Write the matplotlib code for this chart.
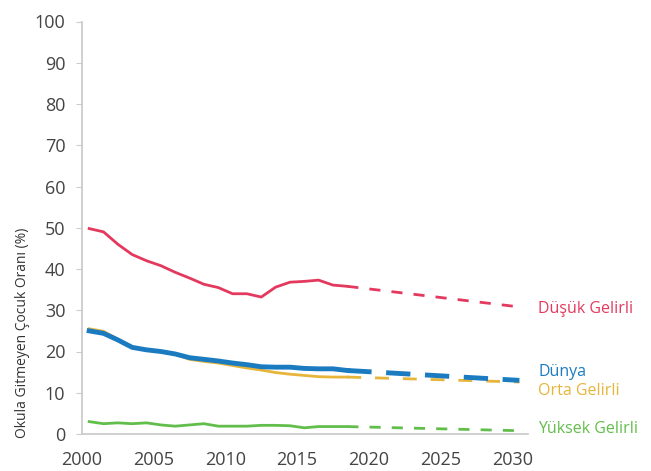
import matplotlib.pyplot as plt
import numpy as np

plt.rcParams["font.family"] = ["Open Sans", "DejaVu Sans"]

# observed series, one value per year (plotted at mid-year)
years = np.arange(2000, 2019)
dusuk = [49.8, 49.0, 46.0, 43.5, 42.0, 40.8, 39.2, 37.8, 36.3, 35.5,
         34.0, 34.0, 33.2, 35.6, 36.8, 37.0, 37.3, 36.1, 35.8]
dunya = [25.0, 24.4, 22.8, 21.0, 20.4, 20.0, 19.4, 18.5, 18.1, 17.7,
         17.2, 16.8, 16.3, 16.2, 16.2, 15.9, 15.8, 15.8, 15.4]
orta = [25.5, 24.9, 23.0, 21.0, 20.3, 19.9, 19.3, 18.1, 17.6, 17.2,
        16.6, 16.0, 15.5, 14.9, 14.5, 14.2, 13.9, 13.8, 13.8]
yuksek = [3.0, 2.5, 2.7, 2.5, 2.7, 2.2, 1.9, 2.2, 2.5, 1.9,
          1.9, 1.9, 2.1, 2.1, 2.0, 1.5, 1.8, 1.8, 1.8]

# projections
proj_years = [2018, 2030]
dusuk_proj = [35.8, 30.8]
dunya_proj = [15.4, 13.0]
orta_proj = [13.8, 12.6]
yuksek_proj = [1.8, 0.8]

labels = ["Düşük Gelirli", "Dünya", "Orta Gelirli", "Yüksek Gelirli"]
label_y = [30.3, 15.1, 10.4, 1.3]

red, blue, gold, green = "#E4395E", "#1B7BC1", "#E6B53A", "#62BE4B"

fig = plt.figure(figsize=(6.51, 4.71), dpi=100)
ax = fig.add_axes([82 / 651, 37 / 471, 446 / 651, 412.5 / 471])

x = years + 0.5
xp = np.array(proj_years) + 0.5
ax.plot(x, dusuk, color=red, lw=2)
ax.plot(xp, dusuk_proj, color=red, lw=2, dashes=(4, 4))
ax.plot(x, orta, color=gold, lw=2)
ax.plot(xp, orta_proj, color=gold, lw=2, dashes=(5, 5))
ax.plot(x, dunya, color=blue, lw=3.5)
ax.plot(xp, dunya_proj, color=blue, lw=3.5, dashes=(5, 3))
ax.plot(x, yuksek, color=green, lw=2)
ax.plot(xp, yuksek_proj, color=green, lw=2, dashes=(4, 4))

for text, yv, c in zip(labels, label_y, [red, blue, gold, green]):
    ax.text(2031.8, yv, text, color=c, fontsize=11.5, va="center",
            clip_on=False)

ax.set_xlim(2000, 2031.1)
ax.set_ylim(0, 100)
ax.set_xticks(range(2000, 2031, 5))
ax.set_yticks(range(0, 101, 10))
ax.tick_params(axis="x", length=0, labelsize=13, labelcolor="#444444", pad=12)
ax.tick_params(axis="y", length=4, color="#cccccc", labelsize=13,
               labelcolor="#444444", pad=8)
for s in ["top", "right"]:
    ax.spines[s].set_visible(False)
for s in ["left", "bottom"]:
    ax.spines[s].set_color("#c8c8c8")
    ax.spines[s].set_linewidth(1.2)

fig.text(0.034, 0.293, "Okula Gitmeyen Çocuk Oranı (%)", rotation=90,
         fontsize=10, color="#333333", ha="center", va="center")

fig.savefig("out.png", dpi=100)
